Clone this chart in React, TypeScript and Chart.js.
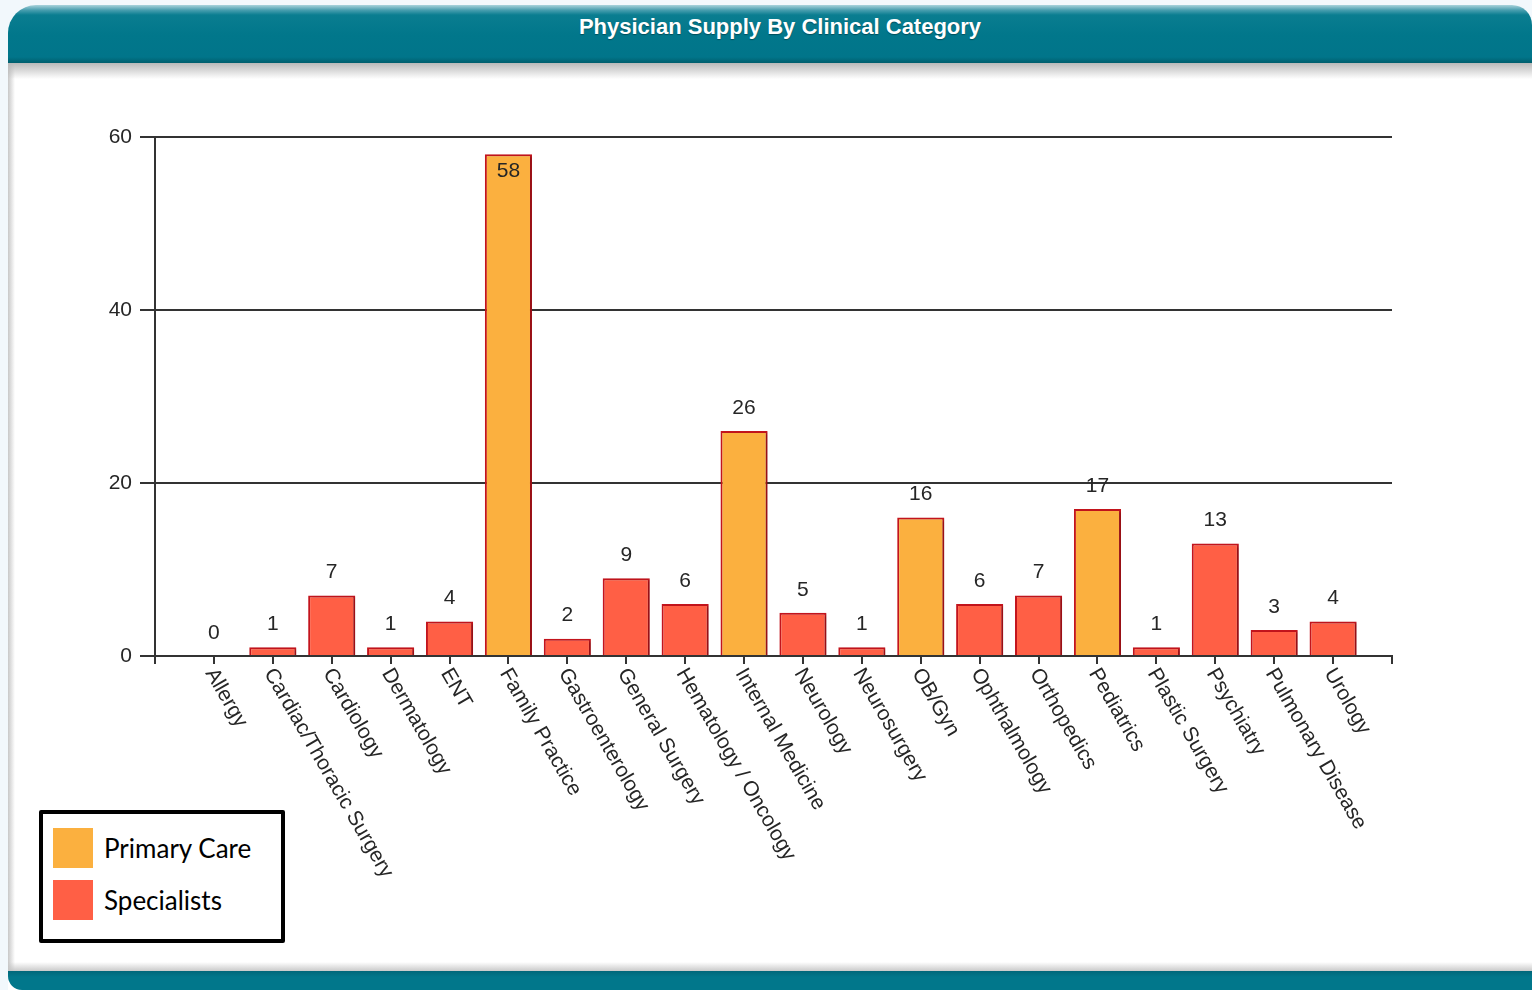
import React, { useEffect, useRef } from "react";
import { Chart, registerables } from "chart.js";

Chart.register(...registerables);

const title = "Physician Supply By Clinical Category";

const categories = [
  "Allergy",
  "Cardiac/Thoracic Surgery",
  "Cardiology",
  "Dermatology",
  "ENT",
  "Family Practice",
  "Gastroenterology",
  "General Surgery",
  "Hematology / Oncology",
  "Internal Medicine",
  "Neurology",
  "Neurosurgery",
  "OB/Gyn",
  "Ophthalmology",
  "Orthopedics",
  "Pediatrics",
  "Plastic Surgery",
  "Psychiatry",
  "Pulmonary Disease",
  "Urology",
];

const primaryCare: (number | null)[] = [
  null, null, null, null, null, 58, null, null, null, 26,
  null, null, 16, null, null, 17, null, null, null, null,
];

const specialists: (number | null)[] = [
  0, 1, 7, 1, 4, null, 2, 9, 6, null,
  5, 1, null, 6, 7, null, 1, 13, 3, 4,
];

const yTicks = [0, 20, 40, 60];

const seriesNames = ["Primary Care", "Specialists"];
const seriesColors = ["#FBB03F", "#FF5F45"];
const barBorder = "#C3141C";

const FONT = '"Liberation Sans", Arial, sans-serif';

const barShadow = {
  id: "barShadow",
  beforeDatasetsDraw(chart: any) {
    const ctx = chart.ctx;
    ctx.save();
    ctx.shadowColor = "rgba(0,0,0,0.22)";
    ctx.shadowOffsetX = 3;
    ctx.shadowOffsetY = 1;
    ctx.shadowBlur = 2;
  },
  afterDatasetsDraw(chart: any) {
    chart.ctx.restore();
  },
};

const valueLabels = {
  id: "valueLabels",
  afterDatasetsDraw(chart: any) {
    const ctx = chart.ctx;
    const area = chart.chartArea;
    ctx.save();
    ctx.font = `21px ${FONT}`;
    ctx.fillStyle = "#262626";
    ctx.textAlign = "center";
    ctx.textBaseline = "middle";
    chart.data.datasets.forEach((ds: any, i: number) => {
      const meta = chart.getDatasetMeta(i);
      meta.data.forEach((el: any, j: number) => {
        const v = ds.data[j];
        if (v === null || v === undefined) return;
        const { x, y } = el.getProps(["x", "y"], true);
        let ly = y - 23;
        if (ly - 10 < area.top) ly = y + 17;
        ctx.fillText(String(v), x, ly);
      });
    });
    ctx.restore();
  },
};

const rotatedXLabels = {
  id: "rotatedXLabels",
  afterDraw(chart: any) {
    const ctx = chart.ctx;
    const xs = chart.scales.x;
    ctx.save();
    ctx.font = `21px ${FONT}`;
    ctx.fillStyle = "#262626";
    ctx.textAlign = "left";
    ctx.textBaseline = "middle";
    categories.forEach((c, i) => {
      const x = xs.getPixelForValue(i + 1);
      ctx.save();
      ctx.translate(x - 4, xs.top + 14);
      ctx.rotate(Math.PI / 3);
      ctx.fillText(c, 0, 0);
      ctx.restore();
    });
    ctx.restore();
  },
};

function BarChart() {
  const ref = useRef<HTMLCanvasElement | null>(null);
  useEffect(() => {
    if (!ref.current) return;
    const labels = ["", ...categories, ""];
    const chart = new Chart(ref.current, {
      type: "bar",
      data: {
        labels,
        datasets: [
          {
            label: seriesNames[0],
            data: [null, ...primaryCare, null],
            backgroundColor: seriesColors[0],
            borderColor: barBorder,
            borderWidth: 2,
            categoryPercentage: 0.8,
            barPercentage: 1.0,
          },
          {
            label: seriesNames[1],
            data: [null, ...specialists, null],
            backgroundColor: seriesColors[1],
            borderColor: barBorder,
            borderWidth: 2,
            categoryPercentage: 0.8,
            barPercentage: 1.0,
          },
        ],
      } as any,
      options: {
        animation: false,
        responsive: false,
        maintainAspectRatio: false,
        layout: { padding: { left: 95, top: 137, right: 140, bottom: 326 } },
        plugins: { legend: { display: false }, tooltip: { enabled: false }, title: { display: false } },
        scales: {
          x: {
            stacked: true,
            offset: false,
            grid: {
              display: true,
              offset: false,
              drawOnChartArea: false,
              drawTicks: true,
              tickLength: 8,
              color: "#333",
              lineWidth: 2,
            },
            border: { display: true, color: "#333", width: 2 },
            ticks: { display: false },
            afterFit: (s: any) => {
              s.height = 8;
            },
          },
          y: {
            stacked: true,
            min: yTicks[0],
            max: yTicks[yTicks.length - 1],
            afterBuildTicks: (s: any) => {
              s.ticks = yTicks.map((v) => ({ value: v }));
            },
            grid: {
              color: "#333",
              lineWidth: 2,
              tickLength: 15,
              drawTicks: true,
            },
            border: { display: true, color: "#333", width: 2 },
            ticks: {
              padding: 8,
              color: "#262626",
              font: { family: FONT, size: 21 },
            },
            afterFit: (s: any) => {
              s.width = 60;
            },
          },
        },
      } as any,
      plugins: [barShadow, valueLabels, rotatedXLabels],
    });
    return () => chart.destroy();
  }, []);
  return (
    <canvas
      ref={ref}
      width={1532}
      height={990}
      style={{ position: "absolute", left: 0, top: 0, width: 1532, height: 990 }}
    />
  );
}

export default function App() {
  return (
    <div
      style={{
        position: "fixed",
        left: 0,
        top: 0,
        width: 1532,
        height: 990,
        background: "#f2f8fc",
        overflow: "hidden",
        fontFamily: FONT,
      }}
    >
      {/* white panel */}
      <div
        style={{
          position: "absolute",
          left: 8,
          top: 5,
          width: 1524,
          height: 985,
          background: "#ffffff",
          borderTopLeftRadius: 28,
          borderTopRightRadius: 20,
        }}
      />
      {/* left edge shadow */}
      <div
        style={{
          position: "absolute",
          left: 8,
          top: 60,
          width: 7,
          height: 915,
          background: "linear-gradient(to right, #c8c8c8, #ffffff)",
        }}
      />
      {/* header band */}
      <div
        style={{
          position: "absolute",
          left: 8,
          top: 5,
          width: 1524,
          height: 58,
          borderTopLeftRadius: 28,
          borderTopRightRadius: 20,
          background:
            "linear-gradient(to bottom, #a9d3dc 0px, #4a9fb0 5px, #0a7d90 10px, #01778b 30px, #01758a 52px, #005e6d 58px)",
        }}
      />
      {/* header bottom shadow */}
      <div
        style={{
          position: "absolute",
          left: 8,
          top: 63,
          width: 1524,
          height: 16,
          background: "linear-gradient(to bottom, #b9b9b9, rgba(255,255,255,0))",
        }}
      />
      <div
        style={{
          position: "absolute",
          left: 28,
          top: 5,
          width: 1504,
          height: 44,
          lineHeight: "44px",
          textAlign: "center",
          color: "#ffffff",
          fontWeight: "bold",
          fontSize: 22,
          textShadow: "0 1px 1px rgba(0,0,0,0.35)",
        }}
      >
        {title}
      </div>
      {/* bottom shadow + band */}
      <div
        style={{
          position: "absolute",
          left: 8,
          top: 962,
          width: 1524,
          height: 10,
          background: "linear-gradient(to bottom, rgba(255,255,255,0), #c4c4c4)",
        }}
      />
      <div
        style={{
          position: "absolute",
          left: 8,
          top: 971,
          width: 1524,
          height: 19,
          borderBottomLeftRadius: 14,
          background: "linear-gradient(to bottom, #01677a, #01778b 6px, #01778b)",
        }}
      />
      <BarChart />
      {/* legend */}
      <div
        style={{
          position: "absolute",
          left: 39,
          top: 810,
          width: 238,
          height: 125,
          border: "4px solid #000",
          borderRadius: 2,
          background: "#fff",
          fontFamily: "Lato, 'Noto Sans', sans-serif",
          fontSize: 26,
          color: "#000",
        }}
      >
        {seriesNames.map((n, i) => (
          <div
            key={n}
            style={{
              position: "absolute",
              left: 10,
              top: i === 0 ? 14 : 66,
              height: 40,
              display: "flex",
              alignItems: "center",
            }}
          >
            <div style={{ width: 40, height: 40, background: seriesColors[i] }} />
            <span style={{ marginLeft: 11, whiteSpace: "nowrap" }}>{n}</span>
          </div>
        ))}
      </div>
    </div>
  );
}
